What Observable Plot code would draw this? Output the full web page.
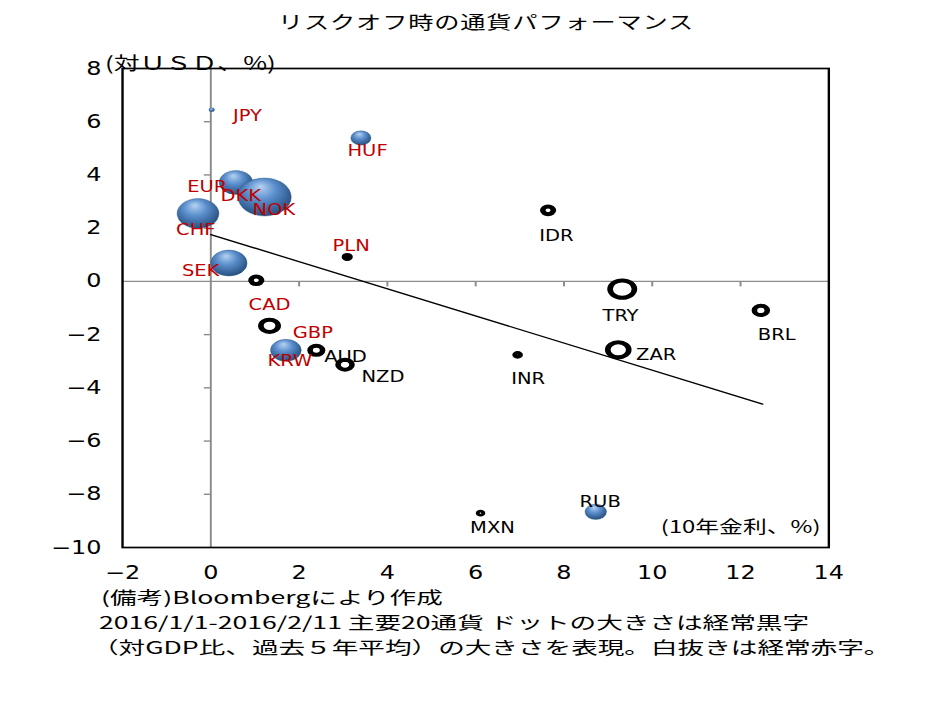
<!DOCTYPE html>
<html><head><meta charset="utf-8">
<script src="https://cdn.jsdelivr.net/npm/d3@7"></script>
<script src="https://cdn.jsdelivr.net/npm/@observablehq/plot@0.6"></script>
<style>
body{margin:0;background:#fff;}
#wrap{position:relative;width:934px;height:701px;overflow:hidden;background:#fff;}
.st{position:absolute;transform-origin:0 0;white-space:pre;font-family:"Noto Sans CJK JP",sans-serif;color:#000;line-height:1;}
.cap{font-size:17px;transform:scaleX(1.565);}
#chart{position:absolute;left:0;top:40px;}
</style></head><body>
<div id="wrap">
<div class="st" id="title" style="left:278px;top:12px;font-size:18px;letter-spacing:0.6px;transform:scaleX(1.4)">リスクオフ時の通貨パフォーマンス</div>
<div id="chart"></div>
<div class="st cap" style="left:101px;top:588px">(備考)Bloombergにより作成</div>
<div class="st cap" style="left:99px;top:613px">2016/1/1-2016/2/11 主要20通貨 ドットの大きさは経常黒字</div>
<div class="st cap" style="left:92px;top:638px">（対GDP比、過去５年平均）の大きさを表現。白抜きは経常赤字。</div>
</div>
<script>
// ---- data ----
const currencies = ["JPY","HUF","EUR","DKK","NOK","CHF","SEK","KRW","RUB","PLN","CAD","GBP","AUD","NZD","IDR","TRY","BRL","ZAR","INR","MXN"];
const rate10y   = [0.02, 3.40, 0.57, 1.12, 1.22, -0.29, 0.41, 1.70, 8.72, 3.09, 1.03, 1.33, 2.39, 3.04, 7.64, 9.32, 12.46, 9.23, 6.95, 6.11];
const fxChange  = [6.45, 5.39, 3.72, 3.25, 3.17, 2.55, 0.69, -2.59, -8.66, 0.92, 0.04, -1.67, -2.59, -3.13, 2.67, -0.29, -1.09, -2.57, -2.76, -8.71];
const currentAccount = [0.11, 1.44, 4.0, 7.0, 10, 6.2, 4.7, 3.35, 1.64, -0.11, -0.40, -1.06, -0.56, -0.69, -0.40, -2.1, -0.59, -1.56, -0.09, -0.054];
const labelX = [0.83, 3.55, -0.08, 0.68, 1.43, -0.34, -0.23, 1.79, 8.82, 3.18, 1.33, 2.31, 3.05, 3.90, 7.83, 9.28, 12.82, 10.09, 7.19, 6.38];
const labelY = [6.20, 4.89, 3.53, 3.20, 2.67, 1.92, 0.40, -3.01, -8.31, 1.32, -0.88, -1.94, -2.84, -3.61, 1.72, -1.29, -2.00, -2.78, -3.66, -9.25];
const redLabelGroup = ["JPY","HUF","EUR","DKK","NOK","CHF","SEK","KRW","PLN","CAD","GBP"];
const trendX = [0, 12.5];
const trendY = [1.76, -4.61];
const xTicks = [-2, 0, 2, 4, 6, 8, 10, 12, 14];
const yTicks = [-10, -8, -6, -4, -2, 0, 2, 4, 6, 8];
const yAxisLabel = "(対ＵＳＤ、%)";
const xAxisLabel = "(10年金利、%)";

// ---- chart ----
const W = 934, W0 = 667, H = 547;
const rows = currencies.map((c, i) => ({c, x: rate10y[i], y: fxChange[i], ca: currentAccount[i], lx: labelX[i], ly: labelY[i]}));
const surplus = rows.filter(d => d.ca > 0);
const deficit = rows.filter(d => d.ca < 0);
const trend = trendX.map((x, i) => ({x, y: trendY[i]}));
const tickLeft = {draw(ctx) { ctx.moveTo(-5, 0); ctx.lineTo(0, 0); }};
const tickDown = {draw(ctx) { ctx.moveTo(0, 0); ctx.lineTo(0, 5); }};
const inner = (arr, lo, hi) => arr.filter(v => v !== 0 && v !== lo && v !== hi);
const narrow = '"Liberation Sans Narrow", "DejaVu Sans Condensed", "Liberation Sans", Arial, sans-serif';

const svg = Plot.plot({
  width: W0, height: H,
  marginLeft: 87, marginRight: 75.6, marginTop: 28, marginBottom: 40,
  x: {domain: [-2, 14], ticks: xTicks, tickSize: 0, tickPadding: 18, label: null},
  y: {domain: [-10, 8], ticks: yTicks, tickSize: 0, tickPadding: 15, label: null},
  r: {type: "sqrt", domain: [0, 10], range: [0, 19]},
  style: {fontFamily: narrow, fontSize: "19px", color: "#000", background: "white"},
  marks: [
    Plot.ruleX([0], {stroke: "#8c8c8c", strokeWidth: 1.4}),
    Plot.ruleY([0], {stroke: "#8c8c8c", strokeWidth: 1.4}),
    Plot.dot(inner(yTicks, -10, 8), {x: 0, y: d => d, symbol: tickLeft, stroke: "#8c8c8c", strokeWidth: 1.4, fill: "none"}),
    Plot.dot(inner(xTicks, -2, 14), {x: d => d, y: 0, symbol: tickDown, stroke: "#8c8c8c", strokeWidth: 1.4, fill: "none"}),
    Plot.dot(deficit, {x: "x", y: "y", r: d => -d.ca, fill: "white", stroke: "#000", strokeWidth: 4, sort: null}),
    Plot.dot(surplus, {x: "x", y: "y", r: "ca", fill: "url(#sphereGrad)", stroke: "#2a5382", strokeWidth: 0.3, sort: null}),
    Plot.line(trend, {x: "x", y: "y", stroke: "#000", strokeWidth: 1.3}),
    Plot.text(rows, {x: "lx", y: "ly", text: "c", fontSize: 15.5, fontFamily: narrow,
      fill: d => redLabelGroup.includes(d.c) ? "#c00000" : "#000"}),
    Plot.text([yAxisLabel], {frameAnchor: "top-left", textAnchor: "start", dx: -12.5, dy: -12,
      fontFamily: "Noto Sans CJK JP", fontSize: 18.5}),
    Plot.text([xAxisLabel], {frameAnchor: "bottom-right", textAnchor: "end", dx: -6, dy: -15,
      fontFamily: "Noto Sans CJK JP", fontSize: 17}),
    Plot.frame({stroke: "#000", strokeWidth: 1.7})
  ]
});

const defs = d3.select(svg).insert("defs", ":first-child");
const g = defs.append("radialGradient").attr("id", "sphereGrad")
  .attr("cx", "0.45").attr("cy", "0.4").attr("r", "0.62").attr("fx", "0.42").attr("fy", "0.22");
g.append("stop").attr("offset", "0%").attr("stop-color", "#b5d2f2");
g.append("stop").attr("offset", "45%").attr("stop-color", "#5a8ecc");
g.append("stop").attr("offset", "100%").attr("stop-color", "#244d7c");

svg.setAttribute("width", W);
svg.setAttribute("height", H);
svg.setAttribute("viewBox", `0 0 ${W0} ${H}`);
svg.setAttribute("preserveAspectRatio", "none");
svg.style.width = W + "px";
svg.style.height = H + "px";
svg.style.maxWidth = "none";
document.getElementById("chart").appendChild(svg);
</script>
</body></html>
